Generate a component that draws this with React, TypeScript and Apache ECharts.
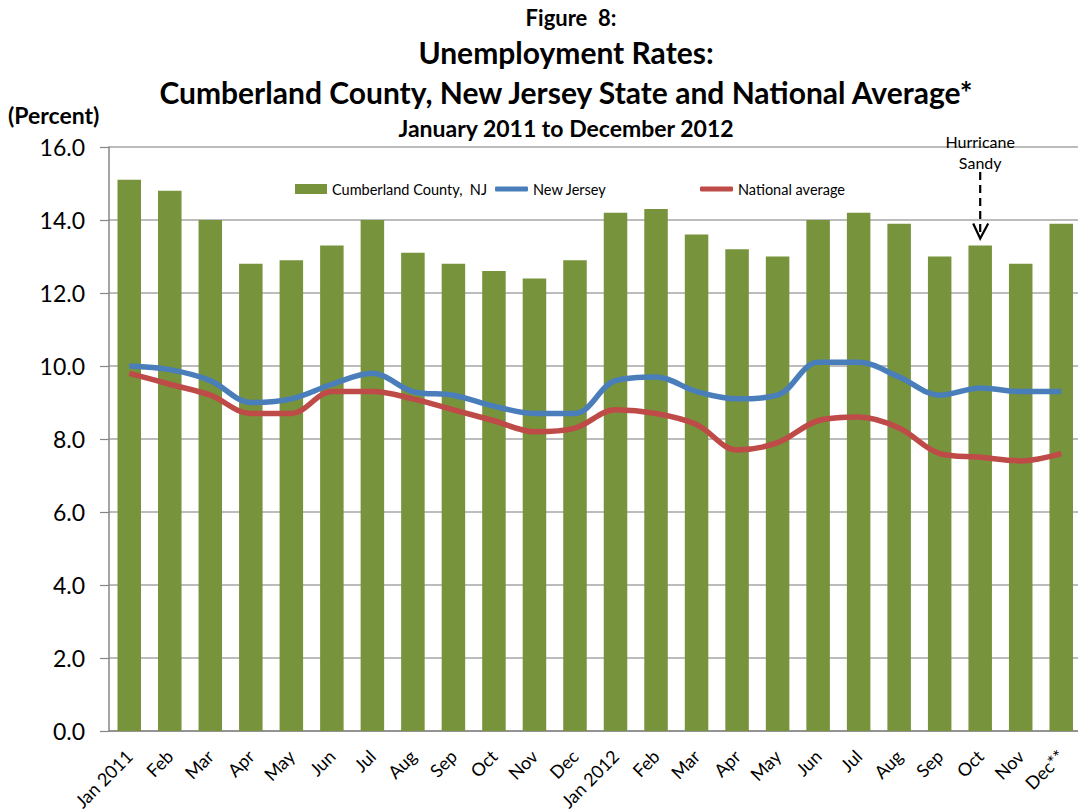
import React, { useEffect, useRef } from "react";
import * as echarts from "echarts";

const tickLabels = [
  "Jan 2011", "Feb", "Mar", "Apr", "May", "Jun", "Jul", "Aug", "Sep", "Oct", "Nov", "Dec",
  "Jan 2012", "Feb", "Mar", "Apr", "May", "Jun", "Jul", "Aug", "Sep", "Oct", "Nov", "Dec**",
];

const cumberland = [
  15.1, 14.8, 14.0, 12.8, 12.9, 13.3, 14.0, 13.1, 12.8, 12.6, 12.4, 12.9,
  14.2, 14.3, 13.6, 13.2, 13.0, 14.0, 14.2, 13.9, 13.0, 13.3, 12.8, 13.9,
];

const newJersey = [
  10.0, 9.9, 9.6, 9.0, 9.1, 9.5, 9.8, 9.3, 9.2, 8.9, 8.7, 8.7,
  9.6, 9.7, 9.3, 9.1, 9.2, 10.1, 10.1, 9.7, 9.2, 9.4, 9.3, 9.3,
];

const national = [
  9.8, 9.5, 9.2, 8.7, 8.7, 9.3, 9.3, 9.1, 8.8, 8.5, 8.2, 8.3,
  8.8, 8.7, 8.4, 7.7, 7.9, 8.5, 8.6, 8.3, 7.6, 7.5, 7.4, 7.6,
];

const seriesNames = ["Cumberland County,  NJ", "New Jersey", "National average"];
const hurricaneIndex = 21;

const FONT = "Lato, 'Open Sans', sans-serif";

export default function App() {
  const ref = useRef<HTMLDivElement>(null);

  useEffect(() => {
    if (!ref.current) return;
    const chart = echarts.init(ref.current, null, { renderer: "svg" });
    const legendBase = {
      top: 176,
      selectedMode: false,
      itemGap: 0,
      textStyle: { fontFamily: FONT, fontSize: 14.5, color: "#000", lineHeight: 16 },
    };
    chart.setOption({
      animation: false,
      backgroundColor: "#fff",
      textStyle: { fontFamily: FONT },
      grid: { left: 109, right: 8.5, top: 147, bottom: 81, containLabel: false, outerBoundsMode: "none" },
      legend: [
        { ...legendBase, left: 290, data: [seriesNames[0]], icon: "rect", itemWidth: 32, itemHeight: 10 },
        { ...legendBase, left: 490, data: [seriesNames[1]], icon: "roundRect", itemWidth: 33, itemHeight: 5 },
        { ...legendBase, left: 695, data: [seriesNames[2]], icon: "roundRect", itemWidth: 33, itemHeight: 5 },
      ],
      xAxis: {
        type: "category",
        data: tickLabels,
        boundaryGap: true,
        axisLine: { lineStyle: { color: "#868686", width: 1.5 } },
        axisTick: { inside: true, length: 6, alignWithLabel: false, lineStyle: { color: "#868686", width: 1.2 } },
        axisLabel: {
          interval: 0,
          rotate: 45,
          margin: 22,
          fontSize: 18,
          fontFamily: FONT,
          color: "#000",
        },
      },
      yAxis: {
        type: "value",
        min: 0,
        max: 16,
        interval: 2,
        axisLine: { show: true, lineStyle: { color: "#868686", width: 1.5 } },
        axisTick: { show: true, length: 9, lineStyle: { color: "#868686", width: 1.2 } },
        splitLine: { lineStyle: { color: "#a6a6a6", width: 1.5 } },
        axisLabel: {
          margin: 24,
          fontSize: 23,
          fontFamily: FONT,
          color: "#000",
          formatter: (v: number) => v.toFixed(1),
        },
      },
      series: [
        {
          name: seriesNames[0],
          type: "bar",
          data: cumberland,
          barCategoryGap: "42%",
          itemStyle: { color: "#77933c" },
          z: 2,
        },
        {
          name: seriesNames[1],
          type: "line",
          data: newJersey,
          smooth: 0.35,
          symbol: "none",
          lineStyle: { color: "#4a7ebb", width: 5.5 },
          itemStyle: { color: "#4a7ebb" },
          z: 4,
        },
        {
          name: seriesNames[2],
          type: "line",
          data: national,
          smooth: 0.35,
          symbol: "none",
          lineStyle: { color: "#be4b48", width: 5.5 },
          itemStyle: { color: "#be4b48" },
          z: 3,
        },
      ],
    });

    const hx = chart.convertToPixel({ xAxisIndex: 0 }, hurricaneIndex) as number;
    const yTop = chart.convertToPixel({ yAxisIndex: 0 }, 16) as number;
    const yBar = chart.convertToPixel({ yAxisIndex: 0 }, cumberland[hurricaneIndex]) as number;
    const tipY = yBar - 7;
    const dashTop = yTop + 25;

    const titleStyle = (size: number) => ({
      fontFamily: FONT,
      fontWeight: "bold",
      fontSize: size,
      fill: "#000",
      textAlign: "center",
      textVerticalAlign: "middle",
    });

    chart.setOption({
      graphic: [
        { type: "text", x: 571, y: 17, style: { ...titleStyle(22), text: "Figure  8:" } },
        { type: "text", x: 566, y: 52, style: { ...titleStyle(30), text: "Unemployment Rates:" } },
        { type: "text", x: 566, y: 92, style: { ...titleStyle(30), text: "Cumberland County, New Jersey State and National Average*" } },
        { type: "text", x: 566, y: 128, style: { ...titleStyle(23), text: "January 2011 to December 2012" } },
        {
          type: "text",
          x: 8,
          y: 115,
          style: { fontFamily: FONT, fontWeight: "bold", fontSize: 23, fill: "#000", textAlign: "left", textVerticalAlign: "middle", text: "(Percent)" },
        },
        {
          type: "text",
          x: hx,
          y: yTop - 6,
          style: { fontFamily: FONT, fontSize: 16, fill: "#000", textAlign: "center", textVerticalAlign: "middle", text: "Hurricane" },
        },
        {
          type: "text",
          x: hx,
          y: yTop + 15,
          style: { fontFamily: FONT, fontSize: 16, fill: "#000", textAlign: "center", textVerticalAlign: "middle", text: "Sandy" },
        },
        {
          type: "line",
          shape: { x1: hx, y1: dashTop, x2: hx, y2: tipY - 2 },
          style: { stroke: "#000", lineWidth: 2.2, lineDash: [8, 5] },
          z: 10,
        },
        {
          type: "polyline",
          shape: { points: [[hx - 7, tipY - 15], [hx, tipY], [hx + 8, tipY - 15]] },
          style: { stroke: "#000", lineWidth: 2.2, fill: "none" },
          z: 10,
        },
      ],
    });

    return () => chart.dispose();
  }, []);

  return (
    <div style={{ position: "fixed", left: 0, top: 0, width: 1078, height: 812, overflow: "hidden", background: "#fff" }}>
      <div ref={ref} style={{ width: 1090, height: 812 }} />
    </div>
  );
}
